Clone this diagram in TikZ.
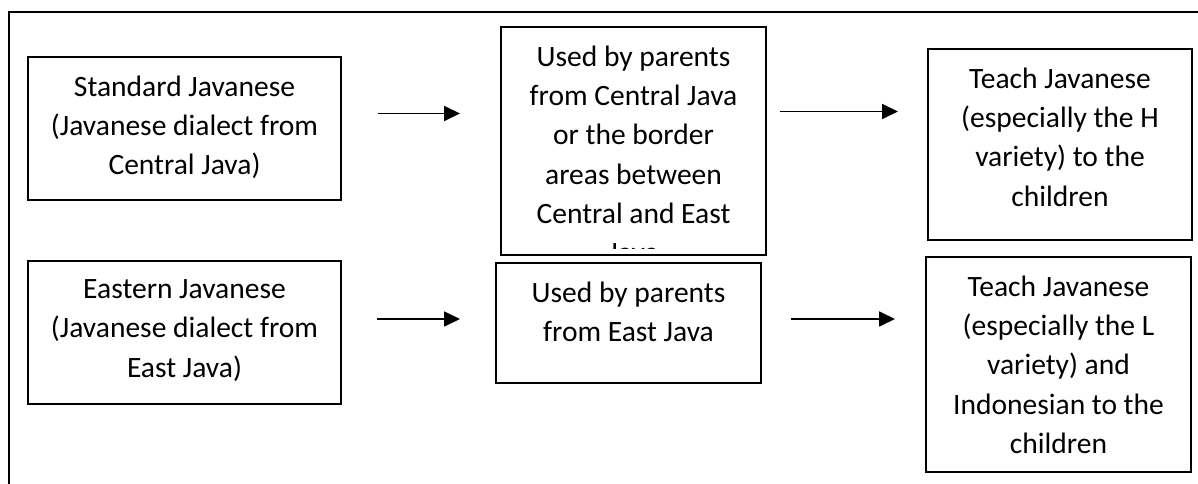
\documentclass[tikz,border=0pt]{standalone}
\usepackage{fontspec}
\setmainfont{Carlito}
\usetikzlibrary{arrows.meta,positioning}

\begin{document}
\begin{tikzpicture}[
  font=\fontsize{16.8}{22.4}\selectfont,
  arrow/.style={-{Triangle[length=3.2mm,width=3mm]}, line width=1pt},
  box/.style={draw, line width=0.9pt, inner sep=0pt},
  note/.style={align=center, inner sep=0pt},
  frame/.style={line width=1.2pt}
]
\useasboundingbox (0,0) rectangle (23.96,-9.68);
\draw[frame] (0.18,-9.68) -- (0.18,-0.24) -- (23.96,-0.24);

% upper row
\node[box, minimum width=6.26cm, minimum height=2.86cm] (stdbox) at (3.69,-2.57) {};
\node[note, below=0.38cm of stdbox.north] (stdtext) {Standard Javanese\\(Javanese dialect from\\Central Java)};

\node[box, minimum width=5.30cm, minimum height=4.56cm] (cenbox) at (12.67,-2.82) {};
\begin{scope}
\clip (cenbox.north west) rectangle ([yshift=0.14cm]cenbox.south east);
\node[note, below=0.38cm of cenbox.north] (centext) {Used by parents\\from Central Java\\or the border\\areas between\\Central and East\\Java};
\end{scope}

\node[box, minimum width=5.28cm, minimum height=3.82cm] (hbox) at (21.20,-2.89) {};
\node[note, below=0.38cm of hbox.north] (htext) {Teach Javanese\\(especially the H\\variety) to the\\children};

% lower row
\node[box, minimum width=6.26cm, minimum height=2.86cm] (eastbox) at (3.69,-6.65) {};
\node[note, below=0.38cm of eastbox.north] (easttext) {Eastern Javanese\\(Javanese dialect from\\East Java)};

\node[box, minimum width=5.30cm, minimum height=2.40cm] (parbox) at (12.57,-6.46) {};
\node[note, below=0.38cm of parbox.north] (partext) {Used by parents\\from East Java};

\node[box, minimum width=5.30cm, minimum height=4.30cm] (lbox) at (21.17,-7.29) {};
\node[note, below=0.38cm of lbox.north] (ltext) {Teach Javanese\\(especially the L\\variety) and\\Indonesian to the\\children};

% arrows
\coordinate (a1s) at (7.56,-2.27);
\coordinate (a1e) at (9.20,-2.27);
\coordinate (a2s) at (15.60,-2.23);
\coordinate (a2e) at (17.96,-2.23);
\coordinate (a3s) at (7.54,-6.38);
\coordinate (a3e) at (9.20,-6.38);
\coordinate (a4s) at (15.82,-6.38);
\coordinate (a4e) at (17.90,-6.38);
\draw[arrow] (a1s) -- (a1e);
\draw[arrow] (a2s) -- (a2e);
\draw[arrow] (a3s) -- (a3e);
\draw[arrow] (a4s) -- (a4e);
\end{tikzpicture}
\end{document}
